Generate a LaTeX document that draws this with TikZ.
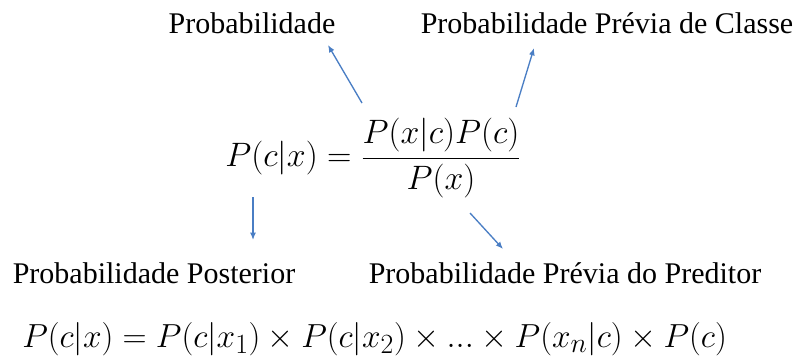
\documentclass[tikz,border=0pt]{standalone}
\usepackage{fontspec}
\newfontfamily\rotulofont{Liberation Serif}
\usetikzlibrary{arrows.meta}
\definecolor{azulseta}{RGB}{74,126,196}
\tikzset{
  rotulo/.style={font=\rotulofont\fontsize{22.5}{27}\selectfont, inner sep=0pt, anchor=base},
  formula/.style={font=\fontsize{24.88}{30}\selectfont, inner sep=0pt, transform shape},
  seta/.style={->, azulseta, line width=1pt}
}
\begin{document}
\begin{tikzpicture}[x=0.75pt, y=-0.75pt, >={Latex[length=5.5pt,width=4.5pt]}]
        \useasboundingbox (0,0) rectangle (802,361);

        % Teorema de Bayes
        \node[formula, scale=1.021, anchor=west] (bayes) at (225,158) {$\displaystyle P(c|x)=\frac{P(x|c)P(c)}{P(x)}$};

        % Rotulos
        \node[rotulo] (veross) at (252,33) {Probabilidade};
        \node[rotulo] (priclasse) at (607,33) {Probabilidade Prévia de Classe};
        \node[rotulo] (posterior) at (154,283) {Probabilidade Posterior};
        \node[rotulo] (pripred) at (565,283) {Probabilidade Prévia do Preditor};

        % Setas
        \coordinate (s1a) at (362,103); \coordinate (s1b) at (328,45);
        \coordinate (s2a) at (516,107); \coordinate (s2b) at (534,48);
        \coordinate (s3a) at (253,197); \coordinate (s3b) at (253,240);
        \coordinate (s4a) at (470,213); \coordinate (s4b) at (503,249);
        \draw[seta] (s1a) -- (s1b);
        \draw[seta] (s2a) -- (s2b);
        \draw[seta] (s3a) -- (s3b);
        \draw[seta] (s4a) -- (s4b);

        % Naive Bayes
        \node[formula, scale=1.006, anchor=base west] (naive) at (22,347)
            {$P(c|x)=P(c|x_1)\times P(c|x_2)\times ...\times P(x_n|c)\times P(c)$};
    \end{tikzpicture}
\end{document}
